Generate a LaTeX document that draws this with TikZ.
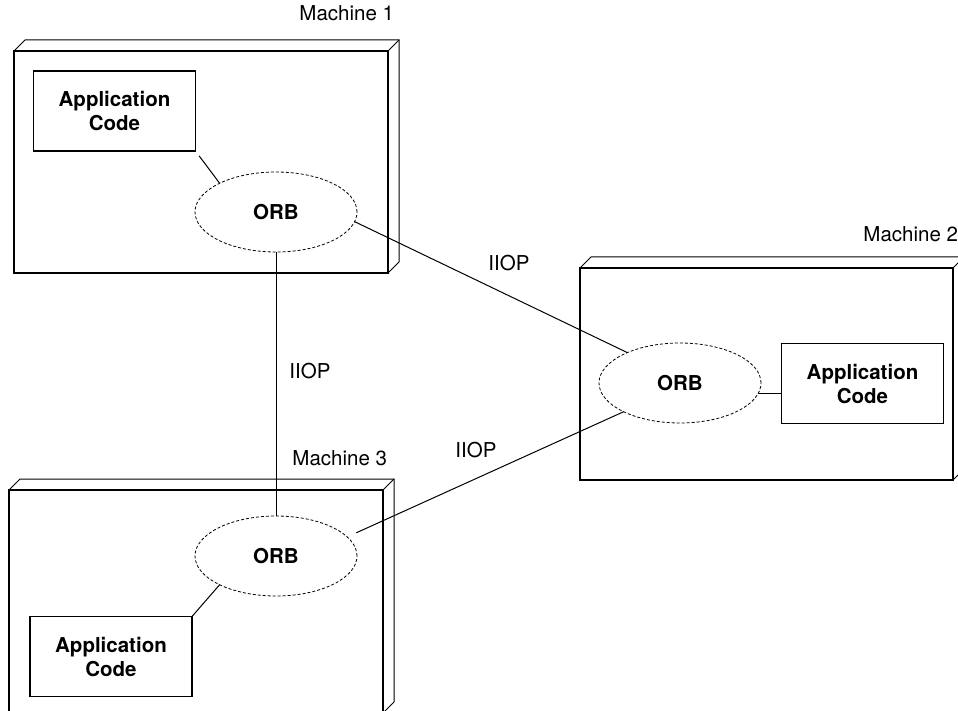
\documentclass[tikz,border=0pt]{standalone}
\usepackage{fontspec}
\setmainfont{TeX Gyre Heros}
\usetikzlibrary{shapes.geometric}
\tikzset{
  machine/.style={draw,line width=1.9pt,inner sep=0pt,outer sep=0pt},
  depth/.style={draw,line width=1pt,line join=miter},
  appbox/.style={draw,line width=1.8pt,minimum width=162pt,minimum height=80pt,inner sep=0pt,outer sep=0pt,align=center,font=\bfseries\fontsize{20.5}{24}\selectfont},
  orb/.style={ellipse,draw,dash pattern=on 3pt off 2pt,line width=0.8pt,minimum width=162pt,minimum height=80pt,inner sep=0pt,outer sep=0pt,font=\bfseries\fontsize{20.5}{24}\selectfont},
  wire/.style={draw,line width=1pt},
  lbl/.style={inner sep=0pt,outer sep=0pt,font=\fontsize{20.5}{24}\selectfont}
}
\begin{document}
\begin{tikzpicture}[x=1pt,y=-1pt]
\path[use as bounding box] (0,0) rectangle (958,711);
\node[machine,minimum width=374pt,minimum height=222pt] (mach1) at (201,162) {};
\node[machine,minimum width=373pt,minimum height=212pt] (mach2) at (766.5,374) {};
\node[machine,minimum width=374pt,minimum height=223pt] (mach3) at (196,601.5) {};
\foreach \m in {mach1,mach2,mach3}{
  \draw[depth] (\m.north west) -- ++(11,-11) -| ([shift={(11,-11)}]\m.south east) -- (\m.south east);
  \draw[depth] (\m.north east) -- ++(11,-11);
}
\node[lbl,anchor=base east] (name1) at (394,21) {Machine 1};
\node[lbl,anchor=base east] (name2) at (958,242) {Machine 2};
\node[lbl,anchor=base east] (name3) at (387,465) {Machine 3};
\node[appbox] (app1) at (114.5,111) {Application\\Code};
\node[appbox] (app2) at (862.5,383.5) {Application\\Code};
\node[appbox] (app3) at (111,656.5) {Application\\Code};
\node[orb] (orb1) at (276,212) {ORB};
\node[orb] (orb2) at (680,383) {ORB};
\node[orb] (orb3) at (276,556) {ORB};
\draw[wire,shorten <=6pt] (app1.south east) -- (orb1.153);
\draw[wire] (orb2.-8) -- (orb2.-8 -| app2.west);
\draw[wire] (app3.north east) -- (orb3.207);
\draw[wire] (orb1.south) -- (orb3.north);
\draw[wire] (orb1.-7) -- (orb2.150);
\draw[wire,shorten <=10pt] (orb3.15) -- (orb2.207);
\node[lbl] (iiop12) at (509,263) {IIOP};
\node[lbl] (iiop13) at (310,371) {IIOP};
\node[lbl] (iiop32) at (476,450) {IIOP};
\end{tikzpicture}
\end{document}
